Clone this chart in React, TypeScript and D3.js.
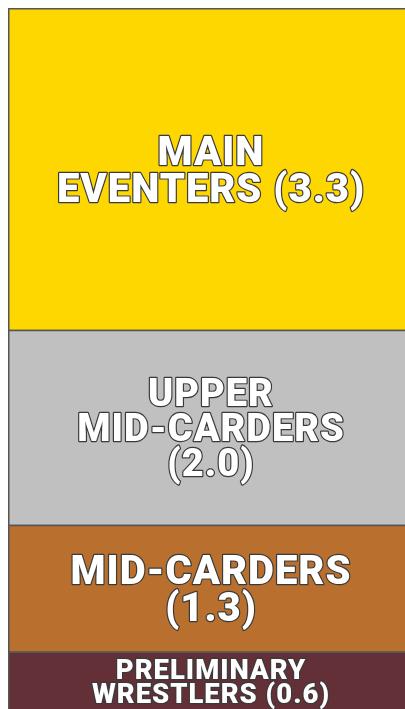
import React from "react";
import * as d3 from "d3";

const categories = ["Main\nEventers", "Upper\nMid-Carders", "Mid-Carders", "Preliminary\nWrestlers"];
const values = [3.3, 2.0, 1.3, 0.6];
const colors = ["#FFD700", "#C0C0C0", "#B9702E", "#623036"];

const W = 406;
const H = 702;
const FONT = "Roboto, 'Noto Sans', sans-serif";
const LS = 1;

let ctx: CanvasRenderingContext2D | null = null;
function measure(text: string, fs: number) {
  if (!ctx) ctx = document.createElement("canvas").getContext("2d");
  if (!ctx) return text.length * fs * 0.62;
  ctx.font = `900 ${fs}px Roboto`;
  return ctx.measureText(text).width + text.length * LS;
}

function wrap(label: string, fs: number, maxW: number) {
  const out: string[] = [];
  label.split("\n").forEach((para) => {
    const words = para.split(" ");
    let cur = "";
    words.forEach((w) => {
      const t = cur ? cur + " " + w : w;
      if (cur && measure(t, fs) > maxW) {
        out.push(cur);
        cur = w;
      } else cur = t;
    });
    if (cur) out.push(cur);
  });
  return out;
}

export default function App() {
  const total = d3.sum(values);
  const y = d3.scaleLinear().domain([0, total]).range([0, H]);
  const stacked = values.map((v, i) => {
    const start = d3.sum(values.slice(0, i));
    return { v, i, y0: y(start), y1: y(start + v) };
  });
  return (
    <div style={{ position: "fixed", left: 0, top: 0, width: 405, height: 709, overflow: "hidden" }}>
      <svg width={W + 2} height={H + 2} style={{ position: "absolute", left: 8, top: 8, display: "block" }}>
        {stacked.map((s) => {
          const h = s.y1 - s.y0;
          const label = (categories[s.i] + " (" + d3.format(".1f")(s.v) + ")").toUpperCase();
          const nRaw = label.split("\n").length;
          let lh = 0.92;
          let fs = Math.min(40, (h - 8) / (nRaw * lh));
          const lines = wrap(label, fs, 330);
          const nLines = lines.length;
          fs = Math.min(fs, (h - 8) / (nLines * lh), nLines > 2 ? 38 : 40);
          if (fs < 30) lh = 0.86;
          const cy = (s.y0 + s.y1) / 2 + 1;
          const startY = cy - ((nLines - 1) * fs * lh) / 2;
          return (
            <g key={s.i}>
              <rect x={0.75} y={s.y0 + 0.75} width={W} height={h} fill={colors[s.i]} stroke="#555" strokeWidth={1.5} />
              <text
                x={W / 2}
                textAnchor="middle"
                fontFamily={FONT}
                fontWeight={900}
                fontSize={fs}
                letterSpacing={LS}
                fill="#fff"
                stroke="#3a3a3a"
                strokeWidth={2.4}
                strokeLinejoin="round"
                style={{ paintOrder: "stroke" }}
              >
                {lines.map((ln, j) => (
                  <tspan key={j} x={W / 2} y={startY + j * fs * lh} dominantBaseline="central">
                    {ln}
                  </tspan>
                ))}
              </text>
            </g>
          );
        })}
      </svg>
    </div>
  );
}
